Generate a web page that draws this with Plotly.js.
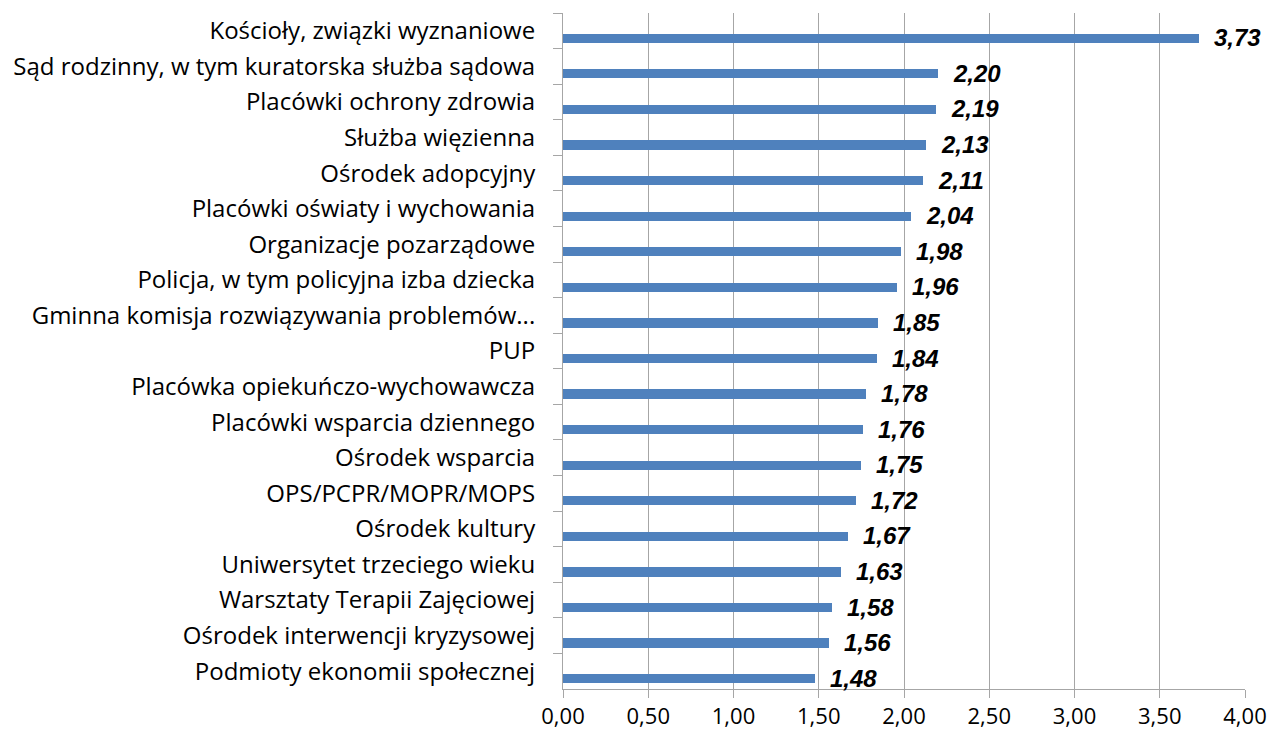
<!DOCTYPE html>
<html>
<head>
<meta charset="utf-8">
<script src="https://cdn.plot.ly/plotly-3.0.1.min.js"></script>
<style>html,body{margin:0;padding:0;background:#fff;}#chart{width:1272px;height:738px;}</style>
</head>
<body>
<div id="chart"></div>
<script>
const categories = [
  "Kościoły, związki wyznaniowe",
  "Sąd rodzinny, w tym kuratorska służba sądowa",
  "Placówki ochrony zdrowia",
  "Służba więzienna",
  "Ośrodek adopcyjny",
  "Placówki oświaty i wychowania",
  "Organizacje pozarządowe",
  "Policja, w tym policyjna izba dziecka",
  "Gminna komisja rozwiązywania problemów...",
  "PUP",
  "Placówka opiekuńczo-wychowawcza",
  "Placówki wsparcia dziennego",
  "Ośrodek wsparcia",
  "OPS/PCPR/MOPR/MOPS",
  "Ośrodek kultury",
  "Uniwersytet trzeciego wieku",
  "Warsztaty Terapii Zajęciowej",
  "Ośrodek interwencji kryzysowej",
  "Podmioty ekonomii społecznej"
];
const values = [3.73, 2.20, 2.19, 2.13, 2.11, 2.04, 1.98, 1.96, 1.85, 1.84, 1.78, 1.76, 1.75, 1.72, 1.67, 1.63, 1.58, 1.56, 1.48];
const tickVals = [0, 0.5, 1, 1.5, 2, 2.5, 3, 3.5, 4];

const labelFont = {family: "Liberation Sans, Arial, sans-serif", size: 24, color: "#000"};

const trace = {
  type: "bar",
  orientation: "h",
  x: values,
  y: categories,
  width: 0.26,
  offset: 0.08,
  marker: {color: "#4F81BD", line: {width: 0}},
  hoverinfo: "x+y"
};

const annotations = values.map((v, i) => ({
  x: v,
  y: categories[i],
  xref: "x",
  yref: "y",
  text: "<b><i>" + v.toFixed(2).replace(".", ",") + "</i></b>",
  showarrow: false,
  xanchor: "left",
  yanchor: "middle",
  xshift: 13,
  yshift: -7,
  font: labelFont
}));

const layout = {
  width: 1272,
  height: 738,
  margin: {l: 563, r: 27, t: 13, b: 49, pad: 0},
  paper_bgcolor: "#ffffff",
  plot_bgcolor: "#ffffff",
  separators: ",.",
  showlegend: false,
  bargap: 0,
  xaxis: {
    range: [0, 4],
    tickvals: tickVals,
    tickformat: ".2f",
    showgrid: true,
    gridcolor: "#A6A6A6",
    gridwidth: 1,
    zeroline: false,
    showline: true,
    linecolor: "#A6A6A6",
    linewidth: 1,
    ticks: "outside",
    ticklen: 8,
    tickcolor: "#A6A6A6",
    tickfont: {family: "Open Sans", size: 22, color: "#000"},
    fixedrange: true
  },
  yaxis: {
    type: "category",
    range: [18.5, -0.5],
    showgrid: false,
    zeroline: false,
    showline: true,
    linecolor: "#A6A6A6",
    linewidth: 1,
    ticks: "outside",
    tickson: "boundaries",
    ticklen: 9,
    tickcolor: "#A6A6A6",
    ticklabelstandoff: 22,
    tickfont: {family: "Open Sans", size: 24, color: "#000"},
    fixedrange: true
  },
  annotations: annotations
};

Plotly.newPlot("chart", [trace], layout, {displayModeBar: false, staticPlot: true});
</script>
</body>
</html>
